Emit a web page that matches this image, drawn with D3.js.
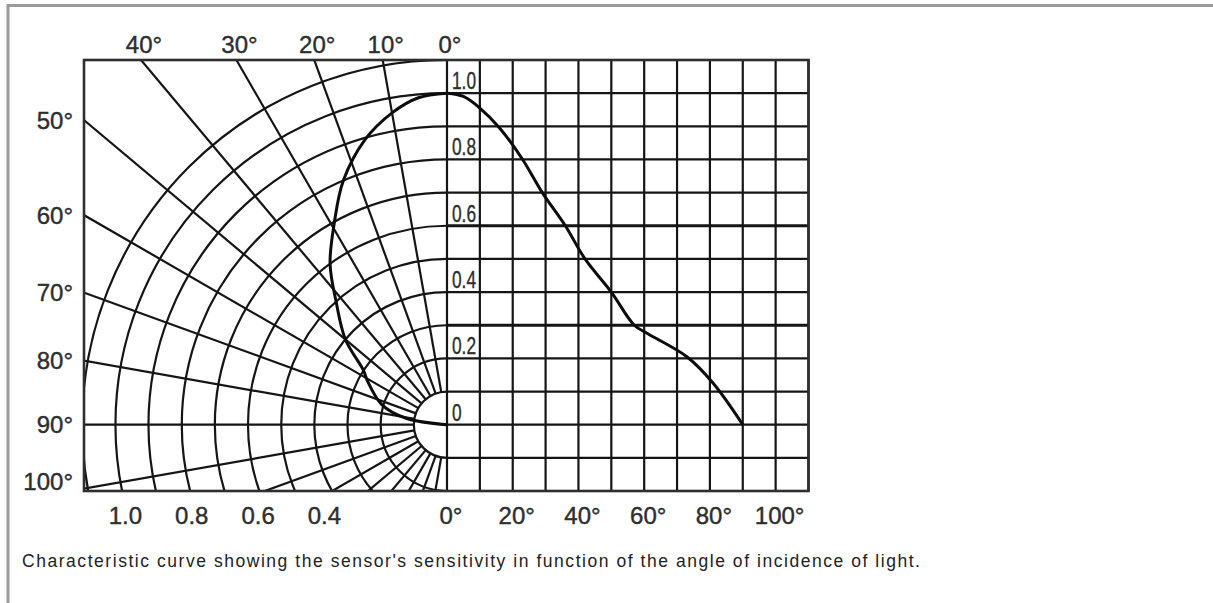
<!DOCTYPE html>
<html><head><meta charset="utf-8">
<script src="https://cdn.jsdelivr.net/npm/d3@7"></script>
<style>html,body{margin:0;padding:0;background:#fff;} svg{display:block;}</style>
</head><body>
<svg id="chart" width="1213" height="603"></svg>
<script>
// ---------- data ----------
const angles      = [0, 5, 10, 16, 23, 29, 36, 42, 50, 57, 61, 73, 81, 90];
const sensitivity = [1.0, 0.99, 0.955, 0.895, 0.80, 0.70, 0.60, 0.50, 0.40, 0.30, 0.275, 0.205, 0.125, 0.0];
const spokeAngles = [10, 20, 30, 40, 50, 60, 70, 80, 90, 100, 110, 120, 130, 140, 150, 160, 170];
const ringValues  = [0.1, 0.2, 0.3, 0.4, 0.5, 0.6, 0.7, 0.8, 0.9, 1.0, 1.1];
const topAngleLabels  = [0, 10, 20, 30, 40];
const leftAngleLabels = [50, 60, 70, 80, 90, 100];
const radialLabels    = ["1.0", "0.8", "0.6", "0.4"];
const xAngleLabels    = [0, 20, 40, 60, 80, 100];
const yValueLabels    = ["1.0", "0.8", "0.6", "0.4", "0.2", "0"];
const xGridAngles     = [0, 10, 20, 30, 40, 50, 60, 70, 80, 90, 100, 110];
const yGridValues     = [-0.2, -0.1, 0, 0.1, 0.2, 0.3, 0.4, 0.5, 0.6, 0.7, 0.8, 0.9, 1.0, 1.1];
const thickGridValues = [0.6, 0.3];
const caption = "Characteristic curve showing the sensor's sensitivity in function of the angle of incidence of light.";

(function () {
const data = angles.map((a, i) => ({a, v: sensitivity[i]}));

// ---------- layout ----------
const L = 84, T = 60, R = 808.5, B = 491;
const svg = d3.select("#chart");
const ink = "#151515";
const lw = 2.2;
const font = "'Liberation Sans', Arial, sans-serif";

const x = d3.scaleLinear().domain([0, 110]).range([447, R]);
const y = d3.scaleLinear().domain([-0.2, 1.1]).range([B, T]);
const cx = x(0), cy = y(0);
const r = d3.scaleLinear().domain([0, 1]).range([0, cy - y(1)]);
const rad = d => d * Math.PI / 180;

// page frame
svg.append("path").attr("d", `M8,603 L8,5.5 L1213,5.5`)
  .attr("fill", "none").attr("stroke", "#9a9a9a").attr("stroke-width", 3);

// ---------- polar part ----------
svg.append("clipPath").attr("id", "pclip").append("rect")
  .attr("x", L).attr("y", T).attr("width", cx - L).attr("height", B - T);
const pg = svg.append("g").attr("clip-path", "url(#pclip)");

pg.selectAll("path.ring").data(ringValues).join("path")
  .attr("class", "ring")
  .attr("d", v => { const p = d3.path(); p.arc(cx, cy, r(v), -Math.PI / 2, Math.PI / 2, true); return p.toString(); })
  .attr("fill", "none").attr("stroke", ink).attr("stroke-width", lw);

pg.selectAll("line.spoke").data(spokeAngles).join("line")
  .attr("class", "spoke")
  .attr("x1", a => cx - r(0.1) * Math.sin(rad(a)))
  .attr("y1", a => cy - r(0.1) * Math.cos(rad(a)))
  .attr("x2", a => cx - 700 * Math.sin(rad(a)))
  .attr("y2", a => cy - 700 * Math.cos(rad(a)))
  .attr("stroke", ink).attr("stroke-width", lw);

// ---------- cartesian grid ----------
const gg = svg.append("g");
gg.selectAll("line.vx").data(xGridAngles).join("line")
  .attr("class", "vx")
  .attr("x1", a => x(a)).attr("x2", a => x(a)).attr("y1", T).attr("y2", B)
  .attr("stroke", ink).attr("stroke-width", lw);
gg.selectAll("line.hy").data(yGridValues).join("line")
  .attr("class", "hy")
  .attr("x1", cx).attr("x2", R).attr("y1", v => y(v)).attr("y2", v => y(v))
  .attr("stroke", ink)
  .attr("stroke-width", v => thickGridValues.some(t => Math.abs(t - v) < 1e-6) ? 3.2 : lw);

// frame
svg.append("rect").attr("x", L).attr("y", T).attr("width", R - L).attr("height", B - T)
  .attr("fill", "none").attr("stroke", "#2e2e2e").attr("stroke-width", 2.6);

// ---------- curves ----------
svg.append("path").datum(data)
  .attr("transform", `translate(${cx},${cy})`)
  .attr("d", d3.lineRadial().angle(d => -rad(d.a)).radius(d => r(d.v)).curve(d3.curveCatmullRom))
  .attr("fill", "none").attr("stroke", "#0c0c0c").attr("stroke-width", 3);

svg.append("path").datum(data)
  .attr("d", d3.line().x(d => x(d.a)).y(d => y(d.v)).curve(d3.curveCatmullRom))
  .attr("fill", "none").attr("stroke", "#0c0c0c").attr("stroke-width", 3);

// ---------- labels ----------
const txt = "#2e2e2e";
const lbl = sel => sel.attr("font-family", font).attr("font-size", 24).attr("fill", txt)
  .attr("stroke", txt).attr("stroke-width", 0.4);

svg.selectAll("text.top").data(topAngleLabels).join("text")
  .attr("class", "top")
  .attr("x", a => cx - (cy - T) * Math.tan(rad(a)) + 3).attr("y", 53)
  .attr("text-anchor", "middle").call(lbl)
  .text(a => a + "°");

svg.selectAll("text.left").data(leftAngleLabels).join("text")
  .attr("class", "left")
  .attr("x", 73)
  .attr("y", a => Math.min(cy - (cx - L) / Math.tan(rad(a)), 481))
  .attr("dy", "0.36em")
  .attr("text-anchor", "end").call(lbl)
  .text(a => a + "°");

svg.selectAll("text.rad").data(radialLabels).join("text")
  .attr("class", "rad")
  .attr("x", v => cx - r(+v) + 10).attr("y", 524)
  .attr("text-anchor", "middle").call(lbl)
  .text(v => v);

svg.selectAll("text.xa").data(xAngleLabels).join("text")
  .attr("class", "xa")
  .attr("x", a => x(a) + 4).attr("y", 524)
  .attr("text-anchor", "middle").call(lbl)
  .text(a => a + "°");

svg.selectAll("text.yv").data(yValueLabels).join("text")
  .attr("class", "yv")
  .attr("transform", v => `translate(${cx + 5},${y(+v) - 4}) scale(0.72,1)`)
  .call(lbl)
  .text(v => v);

svg.append("text").attr("x", 22).attr("y", 567)
  .attr("font-family", font).attr("font-size", 17.5).attr("fill", "#222")
  .attr("textLength", 898).attr("lengthAdjust", "spacing")
  .text(caption);
})();
</script>
</body></html>
